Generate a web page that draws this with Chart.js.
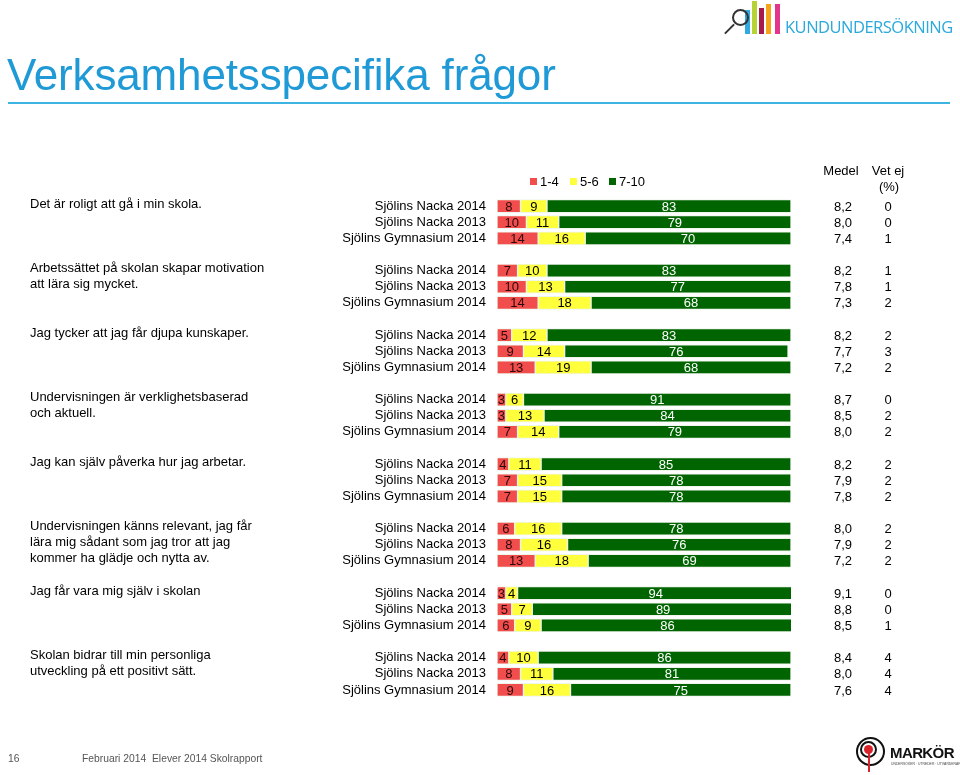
<!DOCTYPE html>
<html>
<head>
<meta charset="utf-8">
<script src="https://cdn.jsdelivr.net/npm/chart.js@4"></script>
<style>
  html, body { margin:0; padding:0; background:#fff; }
  body { width:960px; height:775px; position:relative; overflow:hidden; font-family:"Liberation Sans", Arial, sans-serif; }
  #wrap { position:absolute; left:0; top:0; width:960px; height:775px; }
  #title { position:absolute; left:7px; top:50px; font-size:44px; color:#1f9ad6; white-space:nowrap; letter-spacing:-0.15px; }
  #rule { position:absolute; left:8px; top:102px; width:942px; height:2px; background:#3db4e2; }
  #kund { position:absolute; left:785px; top:15px; font-family:"Open Sans", sans-serif; font-size:16.5px; color:#2aa9dc; letter-spacing:-0.5px; white-space:nowrap; }
  .bar { position:absolute; width:5px; }
  .foot { position:absolute; top:753px; font-size:10.3px; color:#555; }
  #mk { position:absolute; left:890px; top:744px; font-family:"Liberation Sans", Arial, sans-serif; font-weight:bold; font-size:15px; color:#111; letter-spacing:-0.6px; }
  #mksub { position:absolute; left:891px; top:762px; font-size:3.4px; color:#444; white-space:nowrap; }
</style>
</head>
<body>
<div id="wrap"><canvas id="c" width="960" height="775"></canvas></div>
<div id="title">Verksamhetsspecifika frågor</div>
<div id="rule"></div>
<!-- Kundundersökning logo -->
<div class="bar" style="left:745px; top:10px; height:24px; background:#2fa9e0;"></div>
<div class="bar" style="left:752px; top:1px; height:33px; background:#b5d334;"></div>
<div class="bar" style="left:759px; top:8px; height:26px; background:#a5194c;"></div>
<div class="bar" style="left:766px; top:4px; height:30px; background:#f7a21b;"></div>
<div class="bar" style="left:775px; top:4px; height:30px; background:#e2358b;"></div>
<div style="position:absolute; left:732px; top:9px; width:13px; height:13px; border:2px solid #333; border-radius:50%;"></div>
<div style="position:absolute; left:723px; top:28px; width:13px; height:2px; background:#333; transform:rotate(-45deg);"></div>
<div id="kund">KUNDUNDERSÖKNING</div>
<!-- footer -->
<div class="foot" style="left:8px;">16</div>
<div class="foot" style="left:82px;">Februari 2014</div>
<div class="foot" style="left:152px;">Elever 2014 Skolrapport</div>
<div style="position:absolute; left:856px; top:737px; width:25px; height:25px; border:2px solid #111; border-radius:50%;"></div>
<div style="position:absolute; left:860px; top:741px; width:17px; height:17px; border:2px solid #111; border-radius:50%; box-sizing:border-box;"></div>
<div style="position:absolute; left:864px; top:745px; width:9px; height:9px; border-radius:50%; background:#d8232a;"></div>
<div style="position:absolute; left:868px; top:752px; width:2px; height:20px; background:#d8232a;"></div>
<div id="mk">MARKÖR</div>
<div id="mksub">UNDERSÖKER · UTREDER · UTVÄRDERAR</div>

<script>
// ---- data ----
const questions = [
  "Det är roligt att gå i min skola.",
  "Arbetssättet på skolan skapar motivation\natt lära sig mycket.",
  "Jag tycker att jag får djupa kunskaper.",
  "Undervisningen är verklighetsbaserad\noch aktuell.",
  "Jag kan själv påverka hur jag arbetar.",
  "Undervisningen känns relevant, jag får\nlära mig sådant som jag tror att jag\nkommer ha glädje och nytta av.",
  "Jag får vara mig själv i skolan",
  "Skolan bidrar till min personliga\nutveckling på ett positivt sätt."
];
const seriesLabels = ["Sjölins Nacka 2014", "Sjölins Nacka 2013", "Sjölins Gymnasium 2014"];
const legendLabels = ["1-4", "5-6", "7-10"];
const low  = [8,10,14,  7,10,14,  5,9,13,   3,3,7,    4,7,7,    6,8,13,   3,5,6,  4,8,9];
const mid  = [9,11,16,  10,13,18, 12,14,19, 6,13,14,  11,15,15, 16,16,18, 4,7,9,  10,11,16];
const high = [83,79,70, 83,77,68, 83,76,68, 91,84,79, 85,78,78, 78,76,69, 94,89,86, 86,81,75];
const medel = [8.2,8.0,7.4, 8.2,7.8,7.3, 8.2,7.7,7.2, 8.7,8.5,8.0, 8.2,7.9,7.8, 8.0,7.9,7.2, 9.1,8.8,8.5, 8.4,8.0,7.6];
const vetEj = [0,0,1, 1,1,2, 2,3,2, 0,2,2, 2,2,2, 2,2,2, 0,0,1, 4,4,4];

// ---- build slots: 3 rows per question + one empty spacer row ----
const nSlots = questions.length * 4 - 1;
const slotLabels = [], slotIdx = [];
for (let i = 0; i < nSlots; i++) {
  const g = Math.floor(i / 4), r = i % 4;
  if (r === 3) { slotLabels.push(""); slotIdx.push(null); }
  else { slotLabels.push(seriesLabels[r]); slotIdx.push(g * 3 + r); }
}
const toSlots = arr => slotIdx.map(k => k === null ? null : arr[k]);

const colors = ["#f24d4d", "#ffff3c", "#006400"];
const textColors = ["#2a0a0a", "#000000", "#ffffff"];
const FONT = '"Liberation Sans", Arial, sans-serif';

const overlay = {
  id: 'overlay',
  afterDatasetsDraw(chart) {
    const ctx = chart.ctx;
    const y = chart.scales.y;
    ctx.save();
    ctx.font = '13px ' + FONT;
    ctx.textAlign = 'center';
    ctx.textBaseline = 'middle';
    chart.data.datasets.forEach((ds, d) => {
      const meta = chart.getDatasetMeta(d);
      meta.data.forEach((el, i) => {
        const v = ds.data[i];
        if (v === null || v === undefined) return;
        const p = el.getCenterPoint();
        ctx.fillStyle = textColors[d];
        ctx.fillText(String(v), p.x, p.y + 1);
      });
    });
    ctx.textAlign = 'left';
    ctx.fillStyle = '#000';
    questions.forEach((q, g) => {
      const y0 = y.getPixelForValue(g * 4) - 2;
      q.split('\n').forEach((line, k) => ctx.fillText(line, 30, y0 + k * 16));
    });
    ctx.textAlign = 'center';
    slotIdx.forEach((k, i) => {
      if (k === null) return;
      const py = y.getPixelForValue(i) + 1;
      ctx.fillText(medel[k].toFixed(1).replace('.', ','), 843, py);
      ctx.fillText(String(vetEj[k]), 888, py);
    });
    ctx.fillText('Medel', 841, 171);
    ctx.fillText('Vet ej', 888, 171);
    ctx.fillText('(%)', 889, 187);
    const lx = [530, 570, 609];
    ctx.textAlign = 'left';
    legendLabels.forEach((t, d) => {
      ctx.fillStyle = colors[d];
      ctx.fillRect(lx[d], 178, 7, 7);
      ctx.fillStyle = '#000';
      ctx.fillText(t, lx[d] + 10, 182);
    });
    ctx.restore();
  }
};

new Chart(document.getElementById('c'), {
  type: 'bar',
  data: {
    labels: slotLabels,
    datasets: [
      { label: legendLabels[0], data: toSlots(low),  backgroundColor: colors[0] },
      { label: legendLabels[1], data: toSlots(mid),  backgroundColor: colors[1] },
      { label: legendLabels[2], data: toSlots(high), backgroundColor: colors[2] }
    ]
  },
  options: {
    indexAxis: 'y',
    responsive: false,
    animation: false,
    devicePixelRatio: 1,
    layout: { padding: { top: 198, right: 169, bottom: 77, left: 0 } },
    datasets: { bar: { barThickness: 13, borderWidth: 1, borderColor: '#eef5ea', borderSkipped: false } },
    plugins: { legend: { display: false }, tooltip: { enabled: false } },
    scales: {
      x: { stacked: true, min: 0, max: 100, display: false },
      y: {
        stacked: true,
        grid: { display: false, drawTicks: false },
        border: { display: false },
        ticks: { autoSkip: false, padding: 11, color: '#000', font: { family: FONT, size: 13 } },
        afterFit(scale) { scale.width = 497; }
      }
    }
  },
  plugins: [overlay]
});
</script>
</body>
</html>
